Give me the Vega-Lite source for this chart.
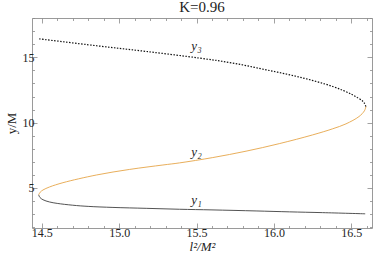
{
  "$schema": "https://vega.github.io/schema/vega-lite/v6.json",
  "width": 340,
  "height": 210,
  "autosize": "none",
  "padding": {"left": 32, "top": 18, "right": 2, "bottom": 36},
  "title": {"text": "K=0.96", "font": "Liberation Serif, DejaVu Serif, serif", "fontSize": 15, "fontWeight": "normal", "color": "#222", "offset": 3},
  "config": {
    "view": {"stroke": "#9a9a9a"},
    "axis": {
      "domain": false, "grid": false,
      "labelFont": "Liberation Serif, DejaVu Serif, serif", "labelFontSize": 12, "labelColor": "#222",
      "tickColor": "#8a8a8a", "tickWidth": 0.8,
      "titleFont": "Liberation Serif, DejaVu Serif, serif", "titleFontWeight": "normal", "titleColor": "#222", "titleFontSize": 13
    }
  },
  "datasets": {
    "curves": [
      {"curve": "y1", "o": 0, "x": 14.480, "y": 4.45},
      {"curve": "y1", "o": 1, "x": 14.488, "y": 4.25},
      {"curve": "y1", "o": 2, "x": 14.508, "y": 4.07},
      {"curve": "y1", "o": 3, "x": 14.55, "y": 3.90},
      {"curve": "y1", "o": 4, "x": 14.60, "y": 3.79},
      {"curve": "y1", "o": 5, "x": 14.70, "y": 3.65},
      {"curve": "y1", "o": 6, "x": 14.80, "y": 3.56},
      {"curve": "y1", "o": 7, "x": 14.96, "y": 3.48},
      {"curve": "y1", "o": 8, "x": 15.175, "y": 3.41},
      {"curve": "y1", "o": 9, "x": 15.39, "y": 3.34},
      {"curve": "y1", "o": 10, "x": 15.60, "y": 3.29},
      {"curve": "y1", "o": 11, "x": 15.885, "y": 3.21},
      {"curve": "y1", "o": 12, "x": 16.10, "y": 3.14},
      {"curve": "y1", "o": 13, "x": 16.315, "y": 3.08},
      {"curve": "y1", "o": 14, "x": 16.59, "y": 2.99},
      {"curve": "y2", "o": 0, "x": 14.480, "y": 4.45},
      {"curve": "y2", "o": 1, "x": 14.490, "y": 4.65},
      {"curve": "y2", "o": 2, "x": 14.508, "y": 4.82},
      {"curve": "y2", "o": 3, "x": 14.55, "y": 5.05},
      {"curve": "y2", "o": 4, "x": 14.637, "y": 5.38},
      {"curve": "y2", "o": 5, "x": 14.853, "y": 5.97},
      {"curve": "y2", "o": 6, "x": 15.068, "y": 6.40},
      {"curve": "y2", "o": 7, "x": 15.283, "y": 6.74},
      {"curve": "y2", "o": 8, "x": 15.39, "y": 6.90},
      {"curve": "y2", "o": 9, "x": 15.605, "y": 7.31},
      {"curve": "y2", "o": 10, "x": 15.82, "y": 7.80},
      {"curve": "y2", "o": 11, "x": 16.035, "y": 8.38},
      {"curve": "y2", "o": 12, "x": 16.25, "y": 9.05},
      {"curve": "y2", "o": 13, "x": 16.38, "y": 9.52},
      {"curve": "y2", "o": 14, "x": 16.466, "y": 9.90},
      {"curve": "y2", "o": 15, "x": 16.55, "y": 10.46},
      {"curve": "y2", "o": 16, "x": 16.585, "y": 10.90},
      {"curve": "y2", "o": 17, "x": 16.595, "y": 11.23},
      {"curve": "y3", "o": 0, "x": 16.595, "y": 11.23},
      {"curve": "y3", "o": 1, "x": 16.585, "y": 11.48},
      {"curve": "y3", "o": 2, "x": 16.573, "y": 11.65},
      {"curve": "y3", "o": 3, "x": 16.508, "y": 12.13},
      {"curve": "y3", "o": 4, "x": 16.38, "y": 12.77},
      {"curve": "y3", "o": 5, "x": 16.165, "y": 13.49},
      {"curve": "y3", "o": 6, "x": 15.95, "y": 14.05},
      {"curve": "y3", "o": 7, "x": 15.734, "y": 14.57},
      {"curve": "y3", "o": 8, "x": 15.52, "y": 14.95},
      {"curve": "y3", "o": 9, "x": 15.175, "y": 15.46},
      {"curve": "y3", "o": 10, "x": 14.853, "y": 15.90},
      {"curve": "y3", "o": 11, "x": 14.476, "y": 16.44}
    ],
    "labels": [
      {"label": "y₁", "x": 15.5, "y": 4.03},
      {"label": "y₂", "x": 15.5, "y": 7.75},
      {"label": "y₃", "x": 15.5, "y": 15.85}
    ]
  },
  "layer": [
    {
      "data": {"name": "curves"},
      "transform": [{"filter": "datum.curve === 'y1'"}],
      "mark": {"type": "line", "color": "#404040", "strokeWidth": 0.9, "interpolate": "catmull-rom"},
      "encoding": {
        "x": {"field": "x", "type": "quantitative", "scale": {"domain": [14.437, 16.634], "nice": false, "zero": false},
              "axis": {"orient": "bottom", "values": [14.5, 15, 15.5, 16, 16.5], "format": ".1f", "tickSize": -5, "labelPadding": 4, "title": "l²/M²", "titleFontStyle": "italic", "titlePadding": 2}},
        "y": {"field": "y", "type": "quantitative", "scale": {"domain": [1.9, 18.03], "nice": false, "zero": false},
              "axis": {"orient": "left", "values": [5, 10, 15], "tickSize": -5, "labelPadding": 3, "title": "y/M", "titlePadding": 4}},
        "order": {"field": "o", "type": "quantitative"}
      }
    },
    {
      "data": {"name": "curves"},
      "transform": [{"filter": "datum.curve === 'y2'"}],
      "mark": {"type": "line", "color": "#E5A548", "strokeWidth": 0.9, "interpolate": "catmull-rom"},
      "encoding": {
        "x": {"field": "x", "type": "quantitative", "scale": {"domain": [14.437, 16.634], "nice": false, "zero": false},
              "axis": {"orient": "bottom", "values": [14.6, 14.7, 14.8, 14.9, 15.1, 15.2, 15.3, 15.4, 15.6, 15.7, 15.8, 15.9, 16.1, 16.2, 16.3, 16.4, 16.6], "tickSize": -2.5, "labels": false, "title": null}},
        "y": {"field": "y", "type": "quantitative", "scale": {"domain": [1.9, 18.03], "nice": false, "zero": false},
              "axis": {"orient": "left", "values": [2, 3, 4, 6, 7, 8, 9, 11, 12, 13, 14, 16, 17, 18], "tickSize": -2.5, "labels": false, "title": null}},
        "order": {"field": "o", "type": "quantitative"}
      }
    },
    {
      "data": {"name": "curves"},
      "transform": [{"filter": "datum.curve === 'y3'"}],
      "mark": {"type": "line", "color": "#111111", "strokeWidth": 1.2, "strokeDash": [1.5, 1.5], "interpolate": "catmull-rom"},
      "encoding": {
        "x": {"field": "x", "type": "quantitative", "scale": {"domain": [14.437, 16.634], "nice": false, "zero": false},
              "axis": {"orient": "top", "values": [14.5, 15, 15.5, 16, 16.5], "tickSize": -5, "labels": false, "title": null}},
        "y": {"field": "y", "type": "quantitative", "scale": {"domain": [1.9, 18.03], "nice": false, "zero": false},
              "axis": {"orient": "right", "values": [5, 10, 15], "tickSize": -5, "labels": false, "title": null}},
        "order": {"field": "o", "type": "quantitative"}
      }
    },
    {
      "data": {"name": "labels"},
      "mark": {"type": "text", "font": "Liberation Serif, DejaVu Serif, serif", "fontStyle": "italic", "fontSize": 13, "color": "#222", "baseline": "middle", "align": "center"},
      "encoding": {
        "x": {"field": "x", "type": "quantitative", "scale": {"domain": [14.437, 16.634], "nice": false, "zero": false},
              "axis": {"orient": "top", "values": [14.6, 14.7, 14.8, 14.9, 15.1, 15.2, 15.3, 15.4, 15.6, 15.7, 15.8, 15.9, 16.1, 16.2, 16.3, 16.4, 16.6], "tickSize": -2.5, "labels": false, "title": null}},
        "y": {"field": "y", "type": "quantitative", "scale": {"domain": [1.9, 18.03], "nice": false, "zero": false},
              "axis": {"orient": "right", "values": [2, 3, 4, 6, 7, 8, 9, 11, 12, 13, 14, 16, 17, 18], "tickSize": -2.5, "labels": false, "title": null}},
        "text": {"field": "label"}
      }
    }
  ],
  "resolve": {"axis": {"x": "independent", "y": "independent"}}
}
